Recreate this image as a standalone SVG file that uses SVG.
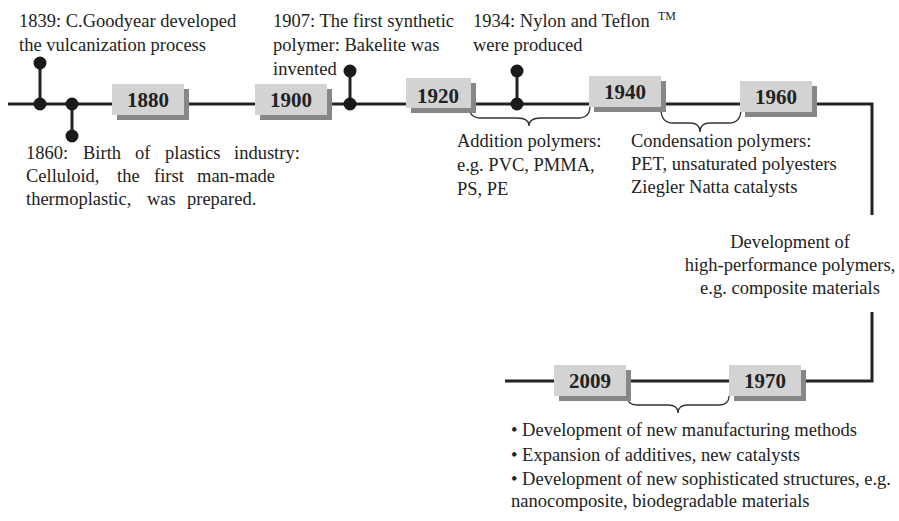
<svg xmlns="http://www.w3.org/2000/svg" width="899" height="521" viewBox="0 0 899 521">
<style>
.t{font-family:"Liberation Serif","Times New Roman",serif;font-size:18.5px;fill:#222}
.yr{font-family:"Liberation Serif","Times New Roman",serif;font-size:21px;font-weight:bold;fill:#222;text-anchor:middle}
.box{fill:#d3d3d3}
.sh{fill:#878787}
.ln{fill:none;stroke:#222;stroke-width:3}
.br{fill:none;stroke:#333;stroke-width:1.3}
.dot{fill:#1a1a1a}
</style>
<defs>
<g id="yb"><rect class="sh" x="5" y="5" width="72" height="31"/><rect class="box" x="0" y="0" width="72" height="31"/></g>
</defs>
<rect width="899" height="521" fill="#fff"/>
<g id="connectors">
<path class="ln" d="M8,104 H872 V215"/>
<path class="ln" d="M872,312 V381 H505"/>
<path class="ln" d="M40,63 V104 M72,104 V136 M350,71 V104 M517,71 V104"/>
<path class="br" d="M469,106 q0,12 12,12 H517 q12,0 12,8 q0,-8 12,-8 H578 q12,0 12,-12"/>
<path class="br" d="M661,109 q0,14 12,14 H690 q10,0 10,9 q0,-9 10,-9 H729 q12,0 12,-14"/>
<path class="br" d="M627,396 q0,9 10,9 H668 q10,0 10,8 q0,-8 10,-8 H719 q10,0 10,-9"/>
</g>
<g id="dots">
<circle class="dot" cx="40" cy="63" r="6.5"/><circle class="dot" cx="40" cy="104" r="6.5"/>
<circle class="dot" cx="72" cy="104" r="6.5"/><circle class="dot" cx="72" cy="136" r="6.5"/>
<circle class="dot" cx="350" cy="71" r="6.5"/><circle class="dot" cx="350" cy="104" r="6.5"/>
<circle class="dot" cx="517" cy="71" r="6.5"/><circle class="dot" cx="517" cy="104" r="6.5"/>
</g>
<g id="y1880"><use href="#yb" x="112" y="84"/><text class="yr" x="148" y="107">1880</text></g>
<g id="y1900"><use href="#yb" x="255" y="84"/><text class="yr" x="291" y="107">1900</text></g>
<g id="y1920"><rect class="sh" x="411" y="83" width="65" height="30"/><rect class="box" x="406" y="78" width="65" height="30"/><text class="yr" x="438" y="103">1920</text></g>
<g id="y1940"><use href="#yb" x="589" y="76"/><text class="yr" x="625" y="99">1940</text></g>
<g id="y1960"><use href="#yb" x="740" y="81"/><text class="yr" x="776" y="104">1960</text></g>
<g id="y2009"><use href="#yb" x="554" y="365"/><text class="yr" x="590" y="388">2009</text></g>
<g id="y1970"><use href="#yb" x="729" y="365"/><text class="yr" x="765" y="388">1970</text></g>
<g id="n1839"><text class="t" x="19" y="27">1839: C.Goodyear developed</text><text class="t" x="19" y="51">the vulcanization process</text></g>
<g id="n1860">
<text class="t" y="159"><tspan x="26">1860:</tspan><tspan x="83">Birth</tspan><tspan x="135">of</tspan><tspan x="165">plastics</tspan><tspan x="234">industry:</tspan></text>
<text class="t" y="182"><tspan x="26">Celluloid,</tspan><tspan x="117">the</tspan><tspan x="154">first</tspan><tspan x="197">man-made</tspan></text>
<text class="t" y="205"><tspan x="26">thermoplastic,</tspan><tspan x="147">was</tspan><tspan x="187">prepared.</tspan></text>
</g>
<g id="n1907"><text class="t" x="273" y="27">1907: The first synthetic</text><text class="t" x="273" y="51">polymer: Bakelite was</text><text class="t" x="273" y="75">invented</text></g>
<g id="n1934"><text class="t" x="473" y="27">1934: Nylon and Teflon <tspan x="658" y="20" font-size="12">TM</tspan></text><text class="t" x="473" y="51">were produced</text></g>
<g id="nAdd"><text class="t" x="457" y="147">Addition polymers:</text><text class="t" x="457" y="171">e.g. PVC, PMMA,</text><text class="t" x="457" y="195">PS, PE</text></g>
<g id="nCond"><text class="t" x="631" y="147">Condensation polymers:</text><text class="t" x="631" y="170">PET, unsaturated polyesters</text><text class="t" x="631" y="193">Ziegler Natta catalysts</text></g>
<g id="nHigh" text-anchor="middle"><text class="t" x="790" y="248">Development of</text><text class="t" x="790" y="271">high-performance polymers,</text><text class="t" x="790" y="294">e.g. composite materials</text></g>
<g id="nModern"><text class="t" x="511" y="436">• Development of new manufacturing methods</text><text class="t" x="511" y="461">• Expansion of additives, new catalysts</text><text class="t" x="511" y="485">• Development of new sophisticated structures, e.g.</text><text class="t" x="511" y="507">nanocomposite, biodegradable materials</text></g>
</svg>
